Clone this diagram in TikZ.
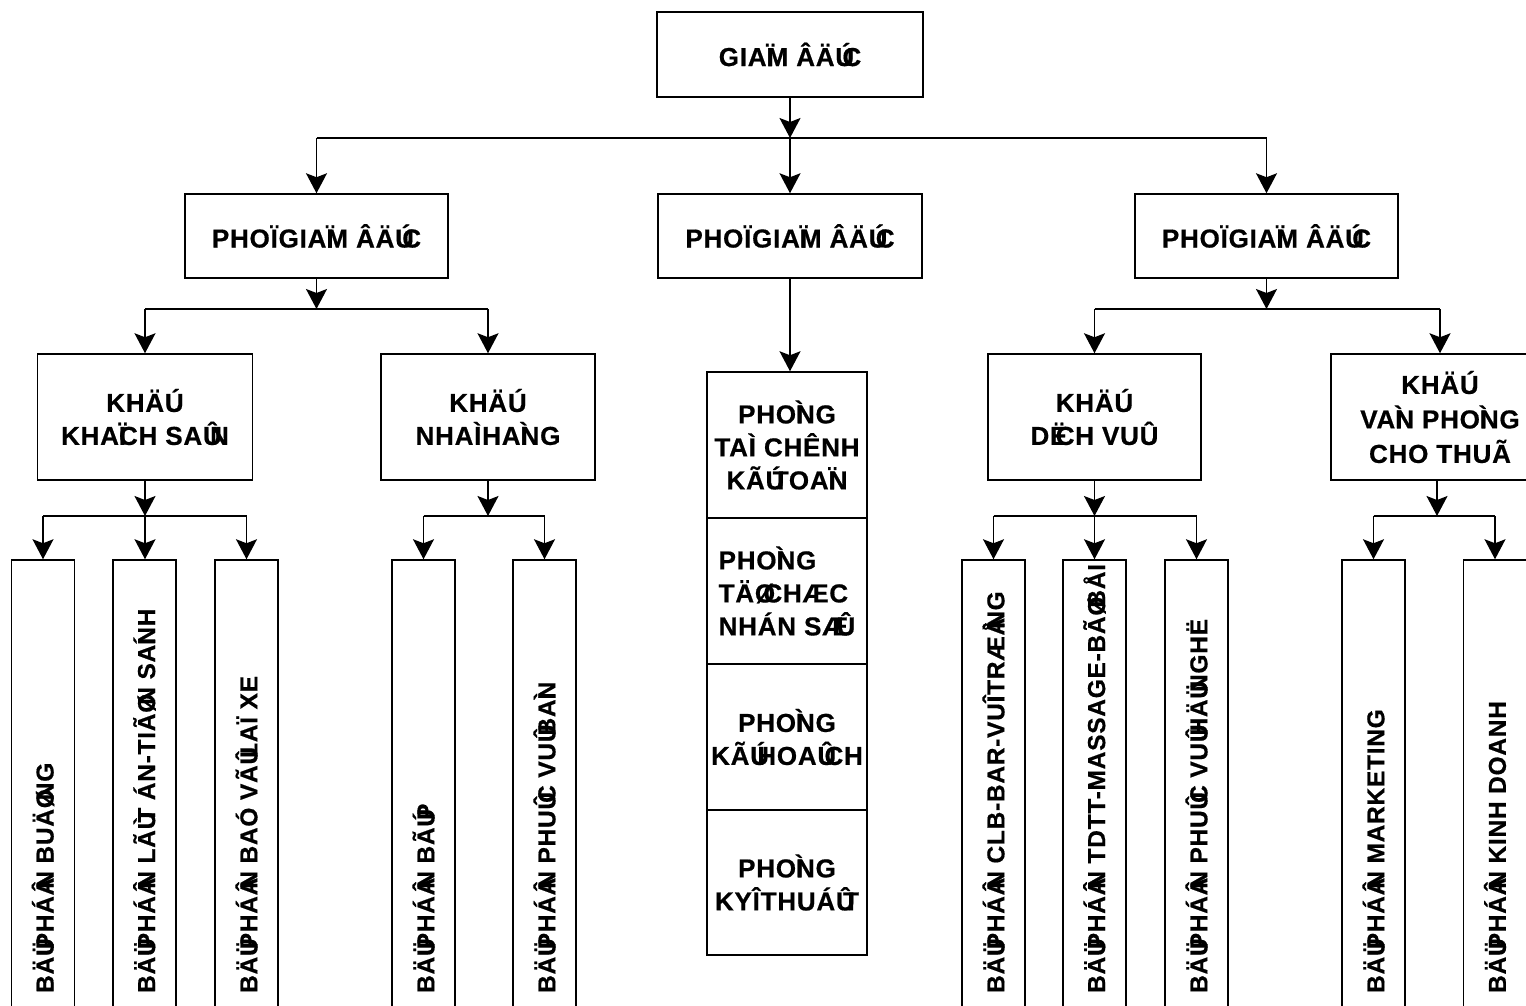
\documentclass[tikz,border=0pt]{standalone}
\usepackage{fontspec}
\setmainfont{Liberation Sans}[LetterSpace=3,FakeBold=0.6]
\usetikzlibrary{arrows.meta}
\newcommand\ov[1]{\rlap{#1}}
\newcommand\ok[1]{#1\kern-0.45em}
\newcommand\bp{BÄ\ok{Ü}PHÁ\ok{Â}N}
\begin{document}
\begin{tikzpicture}[x=1pt,y=-1pt,
  box/.style={draw, line width=1.5pt, inner sep=0pt, align=center,
    font=\fontsize{26}{33}\selectfont\bfseries},
  leaf/.style={draw, line width=1.5pt, minimum width=63pt, minimum height=448pt, inner sep=0pt},
  vtext/.style={rotate=90, anchor=west, inner sep=0pt,
    font=\fontsize{24.5}{26}\selectfont\bfseries},
  arr/.style={-{Stealth[length=20pt,width=21pt,inset=4pt]}, line width=1.5pt},
  conn/.style={line width=1.5pt},
]
\useasboundingbox (0,0) rectangle (1526,1005);

% top
\node[box, minimum width=266pt, minimum height=85pt] (top) at (790,54.5) {GIA\ov{Ï}M ÂÄ\ok{Ú}C};

% vice directors
\node[box, minimum width=263pt, minimum height=84pt] (vp1) at (316.5,236) {PHOÏGIA\ov{Ï}M ÂÄ\ok{Ú}C};
\node[box, minimum width=264pt, minimum height=84pt] (vp2) at (790,236) {PHOÏGIA\ov{Ï}M ÂÄ\ok{Ú}C};
\node[box, minimum width=263pt, minimum height=84pt] (vp3) at (1266.5,236) {PHOÏGIA\ov{Ï}M ÂÄ\ok{Ú}C};

% blocks
\node[box, minimum width=215pt, minimum height=126pt] (k1) at (145,417) {KHÄÚ\\KHA\ov{Ï}CH SA\ok{Û}N};
\node[box, minimum width=214pt, minimum height=126pt] (k2) at (488,417) {KHÄÚ\\NHAÌHA\ov{Ì}NG};
\node[box, minimum width=213pt, minimum height=126pt] (k3) at (1094.5,417) {KHÄÚ\\D\ok{Ë}CH VUÛ};
\node[box, minimum width=218pt, minimum height=126pt, font=\fontsize{26}{34.5}\selectfont\bfseries] (k4) at (1440,417) {KHÄÚ\\VA\ov{Ì}N PHO\ov{Ì}NG\\CHO THUÃ};

% central stack
\node[box, minimum width=160pt, minimum height=146pt] (p1) at (787,445) {PHO\ov{Ì}NG\\TAÌ CHÊNH\\KÃ\ok{Ú}TOA\ov{Ï}N};
\node[box, minimum width=160pt, minimum height=146pt, align=left] (p2) at (787,591) {PHO\ov{Ì}NG\\TÄ\ok{Ø}CHÆC\\NHÁN S\ok{Æ}Û};
\node[box, minimum width=160pt, minimum height=146pt] (p3) at (787,737) {PHO\ov{Ì}NG\\KÃ\ok{Ú}HOA\ok{Û}CH};
\node[box, minimum width=160pt, minimum height=145pt] (p4) at (787,882.5) {PHO\ov{Ì}NG\\KYÎTHUÁ\ok{Û}T};

% leaves
\node[leaf] (l1) at (43,784) {};
\node[leaf] (l2) at (144.5,784) {};
\node[leaf] (l3) at (246.5,784) {};
\node[leaf] (l4) at (423.5,784) {};
\node[leaf] (l5) at (544.5,784) {};
\node[leaf] (l6) at (993.5,784) {};
\node[leaf] (l7) at (1094.5,784) {};
\node[leaf] (l8) at (1196.5,784) {};
\node[leaf] (l9) at (1373.5,784) {};
\node[leaf] (l10) at (1495,784) {};

\node[vtext] (t1) at (l1.center |- 0,993) {\bp{} BUÄ\ok{Ø}NG};
\node[vtext] (t2) at (l2.center |- 0,993) {\bp{} LÃ\ok{Ù}T ÁN-TIÃ\ok{Ø}N SA\ov{Í}NH};
\node[vtext] (t3) at (l3.center |- 0,993) {\bp{} BAÓ VÃ\ok{Û}LAÏ XE};
\node[vtext] (t4) at (l4.center |- 0,993) {\bp{} BÃ\ok{Ú}P};
\node[vtext] (t5) at (l5.center |- 0,993) {\bp{} PHU\ok{Û}C VU\ok{Û}BA\ov{Ì}N};
\node[vtext] (t6) at (l6.center |- 0,993) {\bp{} CLB-BAR-VUÎTRÆ\ok{Å}\ov{Ì}NG};
\node[vtext] (t7) at (l7.center |- 0,993) {\bp{} TDTT-MASSAGE-BÃ\ok{Ø}BÅI};
\node[vtext] (t8) at (l8.center |- 0,993) {\bp{} PHU\ok{Û}C VU\ok{Û}HÄ\ok{Ü}NGHË};
\node[vtext] (t9) at (l9.center |- 0,993) {\bp{} MARKETING};
\node[vtext] (t10) at (l10.center |- 0,993) {\bp{} KINH DOANH};

% junction points
\coordinate (j0) at (790,138);
\coordinate (j1) at (316.5,309);
\coordinate (j5) at (1266.5,309);
\coordinate (j3) at (145,516);
\coordinate (j4) at (488,516);
\coordinate (j6) at (1094.5,516);
\coordinate (j7) at (1437,516);

% level 1
\draw[arr] (top.south) -- (j0);
\draw[conn] (vp1.north |- j0) -- (vp3.north |- j0);
\draw[arr] (vp1.north |- j0) -- (vp1.north);
\draw[arr] (j0) -- (vp2.north);
\draw[arr] (vp3.north |- j0) -- (vp3.north);

% left branch
\draw[arr] (vp1.south) -- (j1);
\draw[conn] (k1.north |- j1) -- (k2.north |- j1);
\draw[arr] (k1.north |- j1) -- (k1.north);
\draw[arr] (k2.north |- j1) -- (k2.north);

\draw[arr] (k1.south) -- (j3);
\draw[conn] (l1.north |- j3) -- (l3.north |- j3);
\draw[arr] (l1.north |- j3) -- (l1.north);
\draw[arr] (j3) -- (j3 |- l2.north);
\draw[arr] (l3.north |- j3) -- (l3.north);

\draw[arr] (k2.south) -- (j4);
\draw[conn] (l4.north |- j4) -- (l5.north |- j4);
\draw[arr] (l4.north |- j4) -- (l4.north);
\draw[arr] (l5.north |- j4) -- (l5.north);

% centre
\draw[arr] (vp2.south) -- (vp2.south |- p1.north);

% right branch
\draw[arr] (vp3.south) -- (j5);
\draw[conn] (k3.north |- j5) -- (j5 -| 1440,0);
\draw[arr] (k3.north |- j5) -- (k3.north);
\draw[arr] (j5 -| 1440,0) -- (k4.north);

\draw[arr] (k3.south) -- (j6);
\draw[conn] (l6.north |- j6) -- (l8.north |- j6);
\draw[arr] (l6.north |- j6) -- (l6.north);
\draw[arr] (j6) -- (j6 |- l7.north);
\draw[arr] (l8.north |- j6) -- (l8.north);

\draw[arr] (j7 |- k4.south) -- (j7);
\draw[conn] (l9.north |- j7) -- (l10.north |- j7);
\draw[arr] (l9.north |- j7) -- (l9.north);
\draw[arr] (l10.north |- j7) -- (l10.north);
\end{tikzpicture}
\end{document}
